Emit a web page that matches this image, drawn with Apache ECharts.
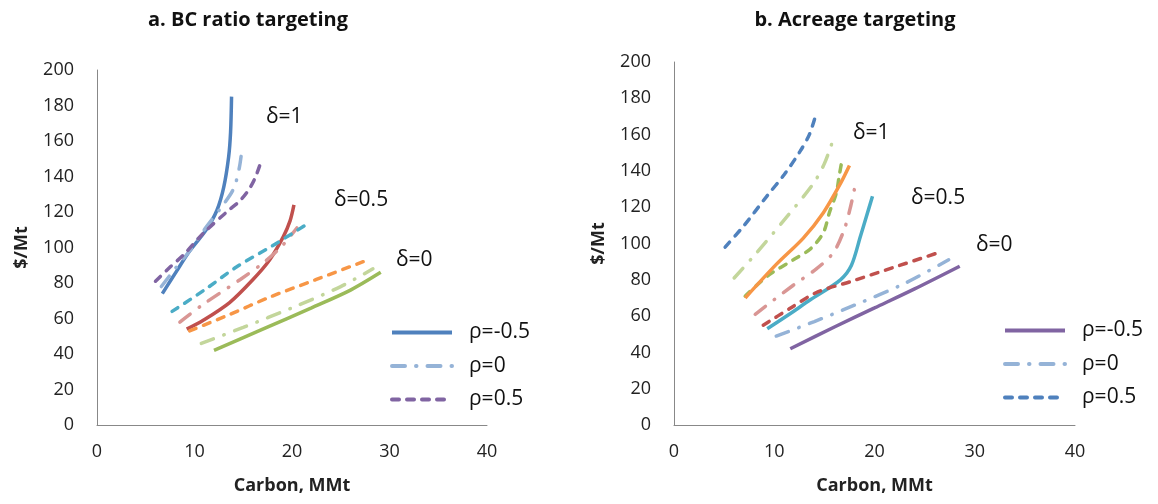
<!DOCTYPE html>
<html>
<head>
<meta charset="utf-8">
<script src="https://cdn.jsdelivr.net/npm/echarts@6/dist/echarts.min.js"></script>
<style>
html,body{margin:0;padding:0;background:#fff;}
#c{width:1158px;height:504px;}
</style>
</head>
<body>
<div id="c"></div>
<script>
// ---- tick values ----
const xTickMin = 0, xTickMax = 40, xTickStep = 10;
const yTickMin = 0, yTickMax = 200, yTickStep = 20;

// ---- labels ----
const titleA = 'a. BC ratio targeting';
const titleB = 'b. Acreage targeting';
const xName = 'Carbon, MMt';
const yName = '$/Mt';
const legendNames = ['ρ=-0.5', 'ρ=0', 'ρ=0.5'];
const deltaLabels = ['δ=1', 'δ=0.5', 'δ=0'];

// ---- panel a: BC ratio targeting  [carbon, $/Mt] ----
const a_d1_neg = [[6.7,74],[8.2,87],[9.5,98],[11.2,110],[12.3,121],[13,134],[13.5,151],[13.7,165],[13.8,185]];
const a_d1_zero = [[6.6,78],[8,88],[9.5,98],[11,110],[12.8,123],[14,133],[14.6,145],[14.9,157]];
const a_d1_pos = [[6,81],[7.5,89],[8.9,96],[10.9,108],[13.3,120],[14.6,126],[15.5,132],[16.2,139],[16.8,148]];
const a_d05_neg = [[9.2,54],[10.9,59],[13.6,69],[16,82],[17.7,93],[19.1,106],[19.8,115],[20.2,124]];
const a_d05_zero = [[8.5,58],[10.9,68],[14.7,82],[17.2,92],[19,101],[20.5,111]];
const a_d05_pos = [[7.7,64],[11,76],[14.3,89],[18,101],[21.5,113]];
const a_d0_neg = [[12,42],[17,54],[22,66],[26,76],[29.1,86]];
const a_d0_zero = [[10.7,46],[15,55],[20,66],[25,78],[28.3,88]];
const a_d0_pos = [[9.5,53],[13.5,62],[17.7,72],[22.5,82],[27.3,92]];

// ---- panel b: Acreage targeting  [carbon, $/Mt] ----
const b_blueDash = [[5.1,98],[7,110],[9.25,126],[11,138],[12.6,151],[13.5,160],[14.1,170]];
const b_lgreenDashDot = [[6,81],[8.1,94],[11,113],[13.9,133],[15,144],[15.8,156]];
const b_greenDash = [[7.1,71],[9.3,82],[11.9,91],[13.6,97],[14.9,106],[15.5,117],[16.2,128],[16.5,138],[16.8,147]];
const b_orangeSolid = [[7.1,70],[10.2,88.5],[12.9,103],[14.9,117],[16.6,133],[17.5,143]];
const b_pinkDashDot = [[8.1,61],[11.9,77],[14.2,86],[15.9,95],[17,108],[17.6,120],[18,130]];
const b_aquaSolid = [[9.3,53],[11.5,61],[13.6,69],[16.6,80],[17.7,88],[18.6,104],[19.2,115],[19.8,126]];
const b_redDash = [[8.9,55],[11.5,64],[14.2,73],[17.6,79],[22,87],[26.4,95]];
const b_lblueDashDot = [[10.2,49],[14,57],[18,66],[23,78],[27.4,91]];
const b_purpleSolid = [[11.6,42],[16,54],[20,64.5],[24,75],[28.5,87.5]];

const SOLID = 'solid';
const DASH = [7, 8];
const DASHDOT = [13, 11, 0.5, 11];
const FONT = 'Open Sans, Lato, sans-serif';

function ser(name, data, color, type, gi) {
  return {
    type: 'line', name: name, data: data, xAxisIndex: gi, yAxisIndex: gi,
    symbol: 'none', smooth: 0.3, silent: true, animation: false,
    lineStyle: { color: color, width: 3.5, type: type, cap: type === SOLID ? 'butt' : 'round' },
    itemStyle: { color: color }
  };
}

const series = [
  ser(legendNames[0], a_d1_neg, '#4F81BD', SOLID, 0),
  ser(legendNames[1], a_d1_zero, '#95B3D7', DASHDOT, 0),
  ser(legendNames[2], a_d1_pos, '#8064A2', DASH, 0),
  ser('a5n', a_d05_neg, '#C0504D', SOLID, 0),
  ser('a5z', a_d05_zero, '#D99694', DASHDOT, 0),
  ser('a5p', a_d05_pos, '#4BACC6', DASH, 0),
  ser('a0n', a_d0_neg, '#9BBB59', SOLID, 0),
  ser('a0z', a_d0_zero, '#C3D69B', DASHDOT, 0),
  ser('a0p', a_d0_pos, '#F79646', DASH, 0),
  ser(legendNames[2] + '#b', b_blueDash, '#4F81BD', DASH, 1),
  ser('b1z', b_lgreenDashDot, '#C3D69B', DASHDOT, 1),
  ser('b1g', b_greenDash, '#9BBB59', DASH, 1),
  ser('b1o', b_orangeSolid, '#F79646', SOLID, 1),
  ser('b5z', b_pinkDashDot, '#D99694', DASHDOT, 1),
  ser('b5a', b_aquaSolid, '#4BACC6', SOLID, 1),
  ser('b5r', b_redDash, '#C0504D', DASH, 1),
  ser(legendNames[1] + '#b', b_lblueDashDot, '#95B3D7', DASHDOT, 1),
  ser(legendNames[0] + '#b', b_purpleSolid, '#8064A2', SOLID, 1)
];

function xAx(gi) {
  return {
    type: 'value', gridIndex: gi, min: xTickMin, max: xTickMax, interval: xTickStep,
    name: xName, nameLocation: 'middle', nameGap: 52,
    nameTextStyle: { fontFamily: FONT, fontSize: 18, fontWeight: 'bold', color: '#222' },
    axisLine: { show: true, lineStyle: { color: '#888', width: 1 } },
    axisTick: { show: false }, splitLine: { show: false },
    axisLabel: { fontFamily: FONT, fontSize: 18, color: '#222', margin: 18 }
  };
}
function yAx(gi) {
  return {
    type: 'value', gridIndex: gi, min: yTickMin, max: yTickMax, interval: yTickStep,
    name: yName, nameLocation: 'middle', nameGap: 66, nameRotate: 90,
    nameTextStyle: { fontFamily: FONT, fontSize: 18, fontWeight: 'bold', color: '#222' },
    axisLine: { show: true, lineStyle: { color: '#888', width: 1 } },
    axisTick: { show: false }, splitLine: { show: false },
    axisLabel: { fontFamily: FONT, fontSize: 18, color: '#222', margin: 23 }
  };
}

function txt(x, y, t, size, weight) {
  return { type: 'text', x: x, y: y, silent: true,
    style: { text: t, font: (weight || 'normal') + ' ' + size + 'px ' + FONT,
      fill: '#111', align: 'left', verticalAlign: 'middle' } };
}
function ctxt(x, y, t, size, weight) {
  const g = txt(x, y, t, size, weight); g.style.align = 'center'; return g;
}

const legendCommon = {
  orient: 'vertical', itemWidth: 60, itemHeight: 14, itemGap: 12.5,
  selectedMode: false,
  itemStyle: { opacity: 0 },
  lineStyle: { width: 4 },
  textStyle: { fontFamily: FONT, fontSize: 21, color: '#111', padding: [0, 0, 0, 12] },
  formatter: function (n) { return n.split('#')[0]; }
};

const option = {
  animation: false,
  backgroundColor: '#fff',
  grid: [
    { left: 97, top: 70, width: 390, height: 355 },
    { left: 674, top: 62, width: 401, height: 363 }
  ],
  xAxis: [xAx(0), xAx(1)],
  yAxis: [yAx(0), yAx(1)],
  legend: [
    Object.assign({}, legendCommon, { left: 385, top: 317, data: legendNames.slice() }),
    Object.assign({}, legendCommon, { left: 998, top: 315, data: legendNames.map(n => n + '#b') })
  ],
  graphic: [
    ctxt(248, 20, titleA, 20, 'bold'),
    ctxt(855, 20, titleB, 20, 'bold'),
    txt(266, 117, deltaLabels[0], 21),
    txt(334, 200, deltaLabels[1], 21),
    txt(396, 260, deltaLabels[2], 21),
    txt(853, 133, deltaLabels[0], 21),
    txt(911, 198, deltaLabels[1], 21),
    txt(976, 245, deltaLabels[2], 21)
  ],
  series: series
};

const chart = echarts.init(document.getElementById('c'), null, { renderer: 'canvas' });
chart.setOption(option);
</script>
</body>
</html>
